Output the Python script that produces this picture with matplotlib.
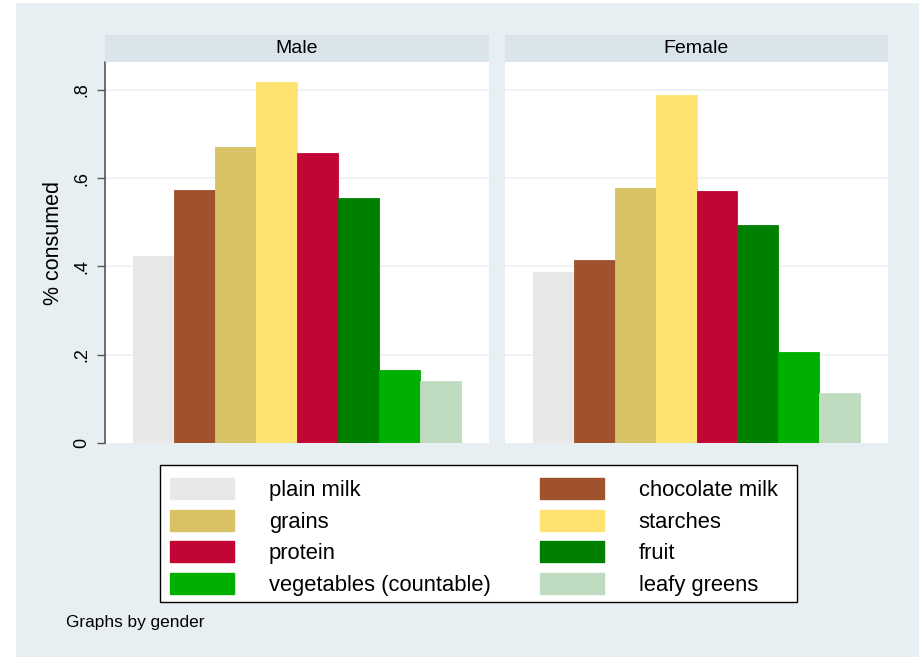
import matplotlib.pyplot as plt
from matplotlib.patches import Rectangle, Patch

plt.rcParams['font.family'] = ['Liberation Sans', 'DejaVu Sans']

# share of students consuming each food group, by gender
foods = ['plain milk', 'chocolate milk', 'grains', 'starches',
         'protein', 'fruit', 'vegetables (countable)', 'leafy greens']
male = [0.424, 0.573, 0.671, 0.818, 0.657, 0.555, 0.165, 0.141]
female = [0.388, 0.415, 0.578, 0.789, 0.571, 0.494, 0.206, 0.113]
panels = ['Male', 'Female']
colors = ['#e8e8e8', '#a0522d', '#d9c266', '#ffe270',
          '#c10534', '#008000', '#00b000', '#c0dcc0']
yticks = [0, 0.2, 0.4, 0.6, 0.8]
ytick_labels = ['0', '.2', '.4', '.6', '.8']

W, H = 920, 657
fig = plt.figure(figsize=(W / 100, H / 100), dpi=100, facecolor='white')
bg = '#e8eff2'
strip = '#d9e5eb'

def box(x0, y0, x1, y1):
    # pixel box (top-left origin) -> figure fraction rect
    return [x0 / W, 1 - y1 / H, (x1 - x0) / W, (y1 - y0) / H]

fig.patches.append(Rectangle((16 / W, 0), 1, 1 - 3 / H, transform=fig.transFigure,
                             facecolor=bg, edgecolor='none', zorder=-10))

for i, (name, vals) in enumerate(zip(panels, [male, female])):
    x0 = 105 if i == 0 else 505
    x1 = 489 if i == 0 else 888
    ax = fig.add_axes(box(x0, 62, x1, 443))
    ax.set_facecolor('white')
    ax.bar(range(len(vals)), vals, width=1.0, color=colors, edgecolor=colors,
           linewidth=0.6, zorder=3)
    ax.set_xlim(-1.18, 8.18)
    ax.set_ylim(0, 0.863)
    ax.set_xticks([])
    ax.set_yticks(yticks)
    for t in yticks[1:]:
        ax.axhline(t, color='#eaf2f3', linewidth=1.2, zorder=1)
    for s in ax.spines.values():
        s.set_visible(False)
    if i == 0:
        ax.spines['left'].set_visible(True)
        ax.spines['left'].set_color('#555555')
        ax.spines['left'].set_linewidth(1.2)
        ax.set_yticklabels(ytick_labels, rotation=90, va='center', fontsize=13)
        ax.tick_params(axis='y', length=6, width=1, color='#555555', pad=4.5)
        ax.set_ylabel('% consumed', fontsize=15.5, labelpad=7, y=0.526)
    else:
        ax.tick_params(axis='y', length=0, labelleft=False)

    hx = fig.add_axes(box(x0, 35, x1, 62))
    hx.set_facecolor(strip)
    hx.set_xticks([])
    hx.set_yticks([])
    for s in hx.spines.values():
        s.set_visible(False)
    hx.text(0.5, 0.5, name, ha='center', va='center', fontsize=14,
            transform=hx.transAxes)

# legend frame drawn separately so its padding can be set freely
fig.patches.append(Rectangle((160 / W, 1 - 602 / H), 637 / W, 137 / H,
                             transform=fig.transFigure, facecolor='white',
                             edgecolor='black', linewidth=1.0, zorder=1))

# legend fills row by row: reorder for matplotlib's column-major layout
order = [0, 2, 4, 6, 1, 3, 5, 7]
handles = [Patch(facecolor=colors[k], edgecolor=colors[k]) for k in order]
labels = [foods[k] for k in order]
leg = fig.legend(handles, labels, ncol=2, loc='upper left',
                 bbox_to_anchor=(160 / W, 1 - 468 / H), fontsize=15.8,
                 frameon=False,
                 handlelength=2.9, handleheight=1.1, handletextpad=1.6,
                 columnspacing=2.25, labelspacing=0.4, borderpad=0.45,
                 borderaxespad=0)
leg.set_zorder(2)

fig.text(66 / W, 1 - 623 / H, 'Graphs by gender', fontsize=12.4, va='center')

fig.savefig('out.png', dpi=100, facecolor='white')
